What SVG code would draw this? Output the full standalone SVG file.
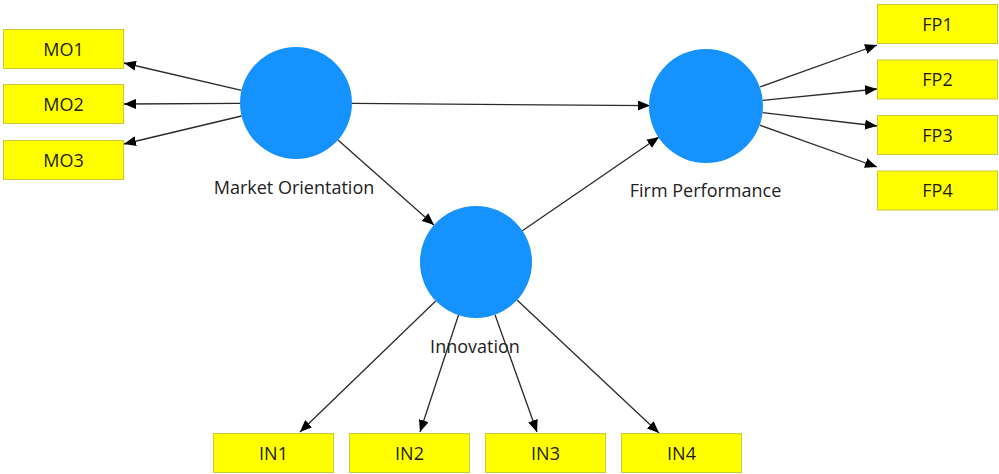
<svg xmlns="http://www.w3.org/2000/svg" width="999" height="474" viewBox="0 0 999 474">
  <style>
    .lv { fill: #1592fd; }
    .ind rect { fill: #ffff00; stroke: #c9c93a; stroke-width: 1; }
    .ind text { font-family: "Open Sans", "Noto Sans", sans-serif; font-size: 18px; fill: #1e1e00; text-anchor: middle; }
    .lbl { font-family: "Open Sans", "Noto Sans", sans-serif; font-size: 18px; fill: #222; text-anchor: middle; }
    .edge line { stroke: #2a2a2a; stroke-width: 1.3; marker-end: url(#arrow); }
  </style>
  <defs>
    <marker id="arrow" viewBox="0 0 12 10" refX="12" refY="5" markerWidth="12" markerHeight="10" markerUnits="userSpaceOnUse" orient="auto">
      <path d="M0,0 L12,5 L0,10 Z" fill="#000"/>
    </marker>
  </defs>

  <rect width="999" height="474" fill="#fff"/>

  <!-- connectors -->
  <g id="connectors" class="edge">
    <line x1="241.5" y1="90.3" x2="124" y2="63"/>
    <line x1="240" y1="103.3" x2="124" y2="104"/>
    <line x1="241.5" y1="116" x2="124" y2="144"/>
    <line x1="352" y1="103.4" x2="650" y2="105.6"/>
    <line x1="338" y1="140" x2="434" y2="225"/>
    <line x1="522" y1="231" x2="659" y2="137"/>
    <line x1="760" y1="87" x2="877" y2="45"/>
    <line x1="762.7" y1="100.4" x2="877" y2="89"/>
    <line x1="762.6" y1="112.6" x2="877" y2="126"/>
    <line x1="759.7" y1="125.2" x2="877" y2="167"/>
    <line x1="435.7" y1="301" x2="300" y2="432"/>
    <line x1="458.5" y1="315" x2="420" y2="432"/>
    <line x1="495" y1="314.7" x2="537" y2="432"/>
    <line x1="517" y1="300" x2="659" y2="433"/>
  </g>

  <!-- latent variables -->
  <g id="market-orientation">
    <circle class="lv" cx="296" cy="103" r="56"/>
    <text class="lbl" x="294" y="194">Market Orientation</text>
  </g>
  <g id="firm-performance">
    <circle class="lv" cx="706" cy="106" r="57"/>
    <text class="lbl" x="705.5" y="197">Firm Performance</text>
  </g>
  <g id="innovation">
    <circle class="lv" cx="476" cy="262" r="56"/>
    <text class="lbl" x="475" y="353">Innovation</text>
  </g>

  <!-- indicators -->
  <g id="MO1" class="ind"><rect x="3.5" y="29.5" width="120" height="39"/><text x="63.5" y="55.5">MO1</text></g>
  <g id="MO2" class="ind"><rect x="3.5" y="84.5" width="120" height="39"/><text x="63.5" y="110.5">MO2</text></g>
  <g id="MO3" class="ind"><rect x="3.5" y="140.5" width="120" height="39"/><text x="63.5" y="166.5">MO3</text></g>

  <g id="FP1" class="ind"><rect x="877.5" y="4.5" width="120" height="39"/><text x="937.5" y="30.5">FP1</text></g>
  <g id="FP2" class="ind"><rect x="877.5" y="60" width="120" height="39"/><text x="937.5" y="86">FP2</text></g>
  <g id="FP3" class="ind"><rect x="877.5" y="115.5" width="120" height="39"/><text x="937.5" y="141.5">FP3</text></g>
  <g id="FP4" class="ind"><rect x="877.5" y="171" width="120" height="39"/><text x="937.5" y="197">FP4</text></g>

  <g id="IN1" class="ind"><rect x="213.5" y="433.5" width="120" height="39"/><text x="273.5" y="459.5">IN1</text></g>
  <g id="IN2" class="ind"><rect x="349.5" y="433.5" width="120" height="39"/><text x="409.5" y="459.5">IN2</text></g>
  <g id="IN3" class="ind"><rect x="485.5" y="433.5" width="120" height="39"/><text x="545.5" y="459.5">IN3</text></g>
  <g id="IN4" class="ind"><rect x="621.5" y="433.5" width="120" height="39"/><text x="681.5" y="459.5">IN4</text></g>
</svg>
